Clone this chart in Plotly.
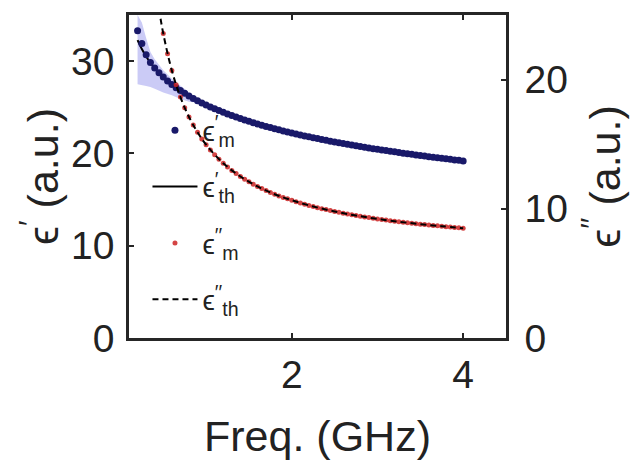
import plotly.graph_objects as go

# ---------------- data ----------------
freq_m = [0.20, 0.25, 0.30, 0.35, 0.40, 0.45, 0.50, 0.55, 0.60, 0.65, 0.70, 0.75,
          0.80, 0.85, 0.90, 0.95, 1.00, 1.05, 1.10, 1.15, 1.20, 1.25, 1.30, 1.35,
          1.40, 1.45, 1.50, 1.55, 1.60, 1.65, 1.70, 1.75, 1.80, 1.85, 1.90, 1.95,
          2.00, 2.05, 2.10, 2.15, 2.20, 2.25, 2.30, 2.35, 2.40, 2.45, 2.50, 2.55,
          2.60, 2.65, 2.70, 2.75, 2.80, 2.85, 2.90, 2.95, 3.00, 3.05, 3.10, 3.15,
          3.20, 3.25, 3.30, 3.35, 3.40, 3.45, 3.50, 3.55, 3.60, 3.65, 3.70, 3.75,
          3.80, 3.85, 3.90, 3.95, 4.00]

eps1_meas = [33.3, 31.9, 30.7, 29.84, 29.25, 28.74, 28.28, 27.86, 27.48, 27.13, 26.81, 26.51,
             26.22, 25.96, 25.71, 25.47, 25.25, 25.04, 24.83, 24.64, 24.45, 24.27, 24.10, 23.94,
             23.78, 23.63, 23.48, 23.33, 23.20, 23.06, 22.93, 22.80, 22.68, 22.56, 22.44, 22.33,
             22.22, 22.11, 22.01, 21.90, 21.80, 21.71, 21.61, 21.52, 21.42, 21.33, 21.25, 21.16,
             21.07, 20.99, 20.91, 20.83, 20.75, 20.67, 20.60, 20.52, 20.45, 20.38, 20.31, 20.24,
             20.17, 20.10, 20.03, 19.97, 19.90, 19.84, 19.77, 19.71, 19.65, 19.59, 19.53, 19.47,
             19.42, 19.36, 19.30, 19.25, 19.19]

eps2_meas = [49.4, 40.8, 35.05, 30.95, 27.88, 25.48, 23.57, 22.00, 20.70, 19.60, 18.65, 17.83,
             17.11, 16.48, 15.92, 15.41, 14.96, 14.55, 14.18, 13.84, 13.53, 13.24, 12.97, 12.73,
             12.50, 12.29, 12.09, 11.90, 11.73, 11.57, 11.41, 11.27, 11.13, 11.00, 10.88, 10.77,
             10.66, 10.55, 10.45, 10.35, 10.26, 10.18, 10.09, 10.01, 9.94, 9.86, 9.79, 9.73,
             9.66, 9.60, 9.54, 9.48, 9.43, 9.37, 9.32, 9.27, 9.22, 9.17, 9.13, 9.08,
             9.04, 9.00, 8.96, 8.92, 8.88, 8.85, 8.81, 8.78, 8.74, 8.71, 8.68, 8.65,
             8.62, 8.59, 8.56, 8.53, 8.50]

freq_th = [0.20, 0.25, 0.30, 0.35, 0.40, 0.45, 0.50, 0.60, 0.70, 0.80, 0.90, 1.00,
           1.20, 1.40, 1.60, 1.80, 2.00, 2.25, 2.50, 2.75, 3.00, 3.25, 3.50, 3.75, 4.00]
eps1_th = [32.28, 31.31, 30.51, 29.84, 29.25, 28.74, 28.28, 27.48, 26.81, 26.22, 25.71, 25.25,
           24.45, 23.78, 23.20, 22.68, 22.22, 21.71, 21.25, 20.83, 20.45, 20.10, 19.77, 19.47, 19.19]
eps2_th = [49.4, 40.8, 35.05, 30.95, 27.88, 25.48, 23.57, 20.70, 18.65, 17.11, 15.92, 14.96,
           13.53, 12.50, 11.73, 11.13, 10.66, 10.18, 9.79, 9.48, 9.22, 9.00, 8.81, 8.65, 8.50]

band_freq = [0.20, 0.25, 0.30, 0.35, 0.40, 0.50, 0.60, 0.70, 0.80, 0.90]
band_upper = [35.0, 34.2, 32.5, 31.0, 30.2, 29.0, 28.1, 27.3, 26.6, 25.9]
band_lower = [27.5, 27.4, 27.3, 27.2, 27.0, 26.6, 26.3, 25.9, 25.6, 25.5]

x_ticks = [2, 4]
y1_ticks = [0, 10, 20, 30]
y2_ticks = [0, 10, 20]

# ---------------- styles ----------------
FONT = "Liberation Sans, Arial, DejaVu Sans, sans-serif"
AX = "#262626"
NAVY = "rgb(25,25,105)"
RED = "rgb(205,35,35)"

fig = go.Figure()

fig.add_trace(go.Scatter(
    x=band_freq + band_freq[::-1], y=band_upper + band_lower[::-1],
    fill="toself", fillcolor="rgba(140,140,235,0.45)", line=dict(width=0),
    mode="lines", showlegend=False, hoverinfo="skip", yaxis="y"))

fig.add_trace(go.Scatter(
    x=freq_th, y=eps1_th, mode="lines", line=dict(color="black", width=2, shape="spline"),
    name="ϵ<sup>′</sup><sub>th</sub>", legendgroup="b", legendrank=2, yaxis="y"))

fig.add_trace(go.Scatter(
    x=freq_m, y=eps1_meas, mode="markers", marker=dict(color=NAVY, size=7),
    name="ϵ<sup>′</sup><sub>m</sub>", legendgroup="a", legendrank=1, yaxis="y"))

fig.add_trace(go.Scatter(
    x=freq_m, y=eps2_meas, mode="markers", marker=dict(color=RED, size=5, opacity=0.85),
    name="ϵ<sup>′′</sup><sub>m</sub>", legendgroup="c", legendrank=3, yaxis="y2"))

fig.add_trace(go.Scatter(
    x=freq_th, y=eps2_th, mode="lines",
    line=dict(color="black", width=2, dash="6px,4px", shape="spline"),
    name="ϵ<sup>′′</sup><sub>th</sub>", legendgroup="d", legendrank=4, yaxis="y2"))

fig.update_layout(
    width=630, height=458,
    margin=dict(l=121, r=132, t=7, b=128, autoexpand=False),
    paper_bgcolor="white", plot_bgcolor="white",
    font=dict(family=FONT, color="#222222", size=39),
    showlegend=True,
    legend=dict(x=0.049, y=0.72, xanchor="left", yanchor="top",
                bgcolor="rgba(0,0,0,0)", borderwidth=0,
                font=dict(size=28, family=FONT, color="#222222"),
                tracegroupgap=17, itemwidth=45),
    xaxis=dict(range=[0.1, 4.5], tickvals=x_ticks, ticks="inside", ticklen=5, tickwidth=2,
               tickcolor=AX, showline=True, linecolor=AX, linewidth=2.5, mirror="ticks",
               showgrid=False, zeroline=False, ticklabelstandoff=0,
               tickfont=dict(size=39),
               title=dict(text="Freq. (GHz)", font=dict(size=43), standoff=27),
               automargin=False),
    yaxis=dict(range=[0, 35], tickvals=y1_ticks, ticks="inside", ticklen=5, tickwidth=2,
               tickcolor=AX, showline=True, linecolor=AX, linewidth=2.5,
               showgrid=False, zeroline=False, ticklabelstandoff=4,
               tickfont=dict(size=39),
               title=dict(text="ϵ<sup>′</sup> (a.u.)", font=dict(size=43), standoff=0),
               automargin=False),
    yaxis2=dict(range=[0, 25], tickvals=y2_ticks, ticks="inside", ticklen=5, tickwidth=2,
                tickcolor=AX, showline=True, linecolor=AX, linewidth=2.5,
                overlaying="y", side="right", anchor="x",
                showgrid=False, zeroline=False, ticklabelstandoff=8,
                tickfont=dict(size=39),
                title=dict(text="ϵ<sup>′′</sup> (a.u.)", font=dict(size=43), standoff=23),
                automargin=False),
)

fig.write_html("out.html")
